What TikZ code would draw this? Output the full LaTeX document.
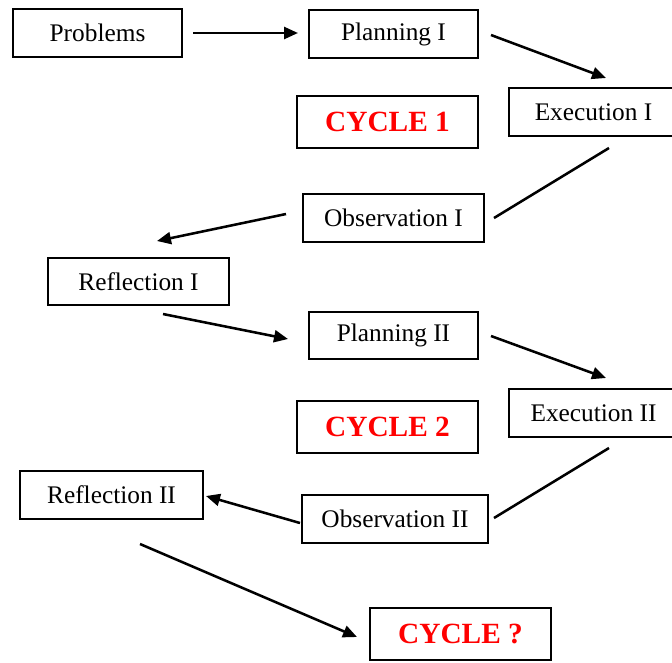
\documentclass[tikz,border=0pt]{standalone}
\usepackage{fontspec}
\setmainfont{Liberation Serif}
\usetikzlibrary{arrows.meta}
\begin{document}
\begin{tikzpicture}[x=0.75pt,y=-0.75pt,
  box/.style={draw,line width=2.1pt,rectangle,inner sep=0pt,font=\fontsize{19}{21}\selectfont},
  cyc/.style={box,text=red,font=\fontsize{22}{24}\selectfont\bfseries},
  conn/.style={line width=1.9pt},
  arr/.style={conn,-{Triangle[length=10.5pt,width=9pt]}}]
\useasboundingbox (0,0) rectangle (672,662);
\node[box,minimum width=169*0.75pt,minimum height=48*0.75pt] (prob) at (97.5,33) {Problems};
\node[box,minimum width=169*0.75pt,minimum height=48*0.75pt] (plan1) at (393.5,34) {Planning I};
\node[cyc,minimum width=181*0.75pt,minimum height=52*0.75pt] (cyc1) at (387.5,122) {CYCLE 1};
\node[box,minimum width=169*0.75pt,minimum height=48*0.75pt] (exec1) at (593.5,112) {Execution I};
\node[box,minimum width=181*0.75pt,minimum height=48*0.75pt] (obs1) at (393.5,218) {Observation I};
\node[box,minimum width=181*0.75pt,minimum height=47*0.75pt] (ref1) at (138.5,281.5) {Reflection I};
\node[box,minimum width=169*0.75pt,minimum height=47*0.75pt] (plan2) at (393.5,335.5) {Planning II};
\node[cyc,minimum width=181*0.75pt,minimum height=52*0.75pt] (cyc2) at (387.5,427) {CYCLE 2};
\node[box,minimum width=169*0.75pt,minimum height=48*0.75pt] (exec2) at (593.5,413) {Execution II};
\node[box,minimum width=183*0.75pt,minimum height=48*0.75pt] (ref2) at (111.5,495) {Reflection II};
\node[box,minimum width=186*0.75pt,minimum height=48*0.75pt] (obs2) at (395,519) {Observation II};
\node[cyc,minimum width=181*0.75pt,minimum height=52*0.75pt] (cycq) at (460.5,634) {CYCLE ?};
% connector end points
\coordinate (a1s) at (193,33);  \coordinate (a1e) at (298,33);
\coordinate (a2s) at (491,35);  \coordinate (a2e) at (606,78);
\coordinate (l1s) at (609,148); \coordinate (l1e) at (494,218);
\coordinate (a3s) at (286,214); \coordinate (a3e) at (157,241);
\coordinate (a4s) at (163,314); \coordinate (a4e) at (288,339);
\coordinate (a5s) at (491,336); \coordinate (a5e) at (606,378);
\coordinate (l2s) at (609,448); \coordinate (l2e) at (494,518);
\coordinate (a6s) at (300,523); \coordinate (a6e) at (206,496);
\coordinate (a7s) at (140,544); \coordinate (a7e) at (357,637);
\draw[arr] (a1s) -- (a1e);
\draw[arr] (a2s) -- (a2e);
\draw[conn] (l1s) -- (l1e);
\draw[arr] (a3s) -- (a3e);
\draw[arr] (a4s) -- (a4e);
\draw[arr] (a5s) -- (a5e);
\draw[conn] (l2s) -- (l2e);
\draw[arr] (a6s) -- (a6e);
\draw[arr] (a7s) -- (a7e);
\end{tikzpicture}
\end{document}
